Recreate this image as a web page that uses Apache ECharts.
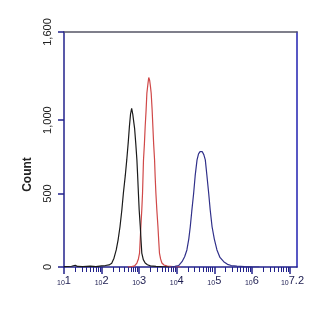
<!DOCTYPE html>
<html><head><meta charset="utf-8">
<script src="https://cdn.jsdelivr.net/npm/echarts@6/dist/echarts.min.js"></script>
<style>html,body{margin:0;padding:0;background:#fff}#c{width:332px;height:310px}</style>
</head><body><div id="c"></div>
<script>
// x values are log10 of fluorescence intensity (decades), y values are counts
const blackData = [[1.00,3],[1.20,5],[1.30,12],[1.36,4],[1.50,3],[1.70,6],[1.85,2],[2.00,8],[2.10,10],[2.20,14],[2.27,25],[2.33,60],[2.39,116],[2.44,185],[2.49,274],[2.54,390],[2.58,502],[2.63,620],[2.67,729],[2.71,850],[2.74,955],[2.77,1040],[2.80,1080],[2.83,1040],[2.86,980],[2.88,940],[2.91,840],[2.94,729],[2.96,620],[2.98,502],[3.00,390],[3.03,274],[3.05,180],[3.07,95],[3.11,50],[3.16,27],[3.22,15],[3.30,8],[3.45,4],[3.60,2],[3.80,0]];
const redData = [[2.70,0],[2.80,3],[2.88,8],[2.94,27],[2.98,55],[3.01,95],[3.045,274],[3.07,390],[3.09,504],[3.115,729],[3.14,840],[3.16,955],[3.185,1070],[3.205,1183],[3.235,1250],[3.255,1290],[3.267,1300],[3.28,1270],[3.30,1230],[3.32,1183],[3.345,1070],[3.365,955],[3.385,840],[3.41,729],[3.425,620],[3.445,504],[3.47,390],[3.50,274],[3.52,180],[3.54,95],[3.57,55],[3.605,27],[3.66,14],[3.75,6],[3.90,3],[4.10,0]];
const blueData = [[3.80,0],[3.95,4],[4.05,10],[4.14,36],[4.21,70],[4.27,116],[4.32,190],[4.36,274],[4.40,380],[4.45,502],[4.49,620],[4.54,729],[4.58,770],[4.62,785],[4.65,790],[4.68,785],[4.72,765],[4.76,729],[4.80,630],[4.85,502],[4.89,390],[4.94,274],[5.00,190],[5.07,116],[5.15,65],[5.25,36],[5.35,18],[5.45,10],[5.60,6],[5.80,3],[6.00,1],[6.20,0]];
const xLabelValues = [1,2,3,4,5,6,7.2];
const xMajorTicks = [1,2,3,4,5,6,7];
const xMinorMantissas = [2,3,4,5,6,7,8,9];
const xMinorDecades = [1,2,3,4,5,6];
const yTickValues = [0,500,1000,1600];

const xMinorTicks = [];
xMinorDecades.forEach(d => xMinorMantissas.forEach(m => xMinorTicks.push(d + Math.log10(m))));

const axisBlue = '#22228c';
const chart = echarts.init(document.getElementById('c'));
const xCommon = {type:'value', min:1, max:7.2, splitLine:{show:false}};
chart.setOption({
  animation:false,
  grid:{left:64, right:35, top:32, bottom:43},
  xAxis:[
    Object.assign({}, xCommon, {
      position:'bottom',
      axisLine:{show:true, lineStyle:{color:axisBlue, width:1.5}},
      axisTick:{show:true, length:7, inside:false, customValues:xMajorTicks, lineStyle:{color:axisBlue, width:1.5}},
      axisLabel:{show:true, margin:8, customValues:xLabelValues,
        formatter: v => {
          const e = Math.round(v*10)/10;
          return '{a|10}{' + (Number.isInteger(e) ? 'b' : 'c') + '|' + e + '}';
        },
        rich:{a:{fontSize:7, fontFamily:'Liberation Sans', color:'#1c1c50', padding:[5,0,0,0]},
              b:{fontSize:11, fontFamily:'Liberation Sans', color:'#1c1c50'},
              c:{fontSize:11, fontFamily:'Liberation Sans', color:'#1c1c50', padding:[0,9,0,0]}}}
    }),
    Object.assign({}, xCommon, {
      position:'bottom',
      axisLine:{show:false},
      axisTick:{show:true, length:5, customValues:xMinorTicks, lineStyle:{color:axisBlue, width:1}},
      axisLabel:{show:false}
    }),
    Object.assign({}, xCommon, {
      position:'top',
      axisLine:{show:true, lineStyle:{color:'#555566', width:1.5}},
      axisTick:{show:false}, axisLabel:{show:false}
    })
  ],
  yAxis:[
    {type:'value', min:0, max:1600, position:'left',
      name:'Count', nameLocation:'middle', nameGap:30,
      nameTextStyle:{fontSize:12, fontWeight:'bold', fontFamily:'Liberation Sans', color:'#222', padding:[0,50,0,0]},
      splitLine:{show:false},
      axisLine:{show:true, lineStyle:{color:axisBlue, width:1.5}},
      axisTick:{show:true, length:6, customValues:yTickValues, lineStyle:{color:axisBlue, width:1.5}},
      axisLabel:{show:true, rotate:90, margin:11, customValues:yTickValues,
        fontSize:11, fontFamily:'Liberation Sans', color:'#222',
        formatter: v => v.toLocaleString('en-US')}
    },
    {type:'value', min:0, max:1600, position:'right',
      splitLine:{show:false},
      axisLine:{show:true, lineStyle:{color:'#2020b0', width:1.5}},
      axisTick:{show:false}, axisLabel:{show:false}
    }
  ],
  series:[
    {type:'line', data:blackData, showSymbol:false, lineStyle:{color:'#1a1a1a', width:1.2}, z:3},
    {type:'line', data:redData, showSymbol:false, lineStyle:{color:'#d04848', width:1.2}, z:2},
    {type:'line', data:blueData, showSymbol:false, lineStyle:{color:'#30308a', width:1.2}, z:2}
  ]
});
</script></body></html>
